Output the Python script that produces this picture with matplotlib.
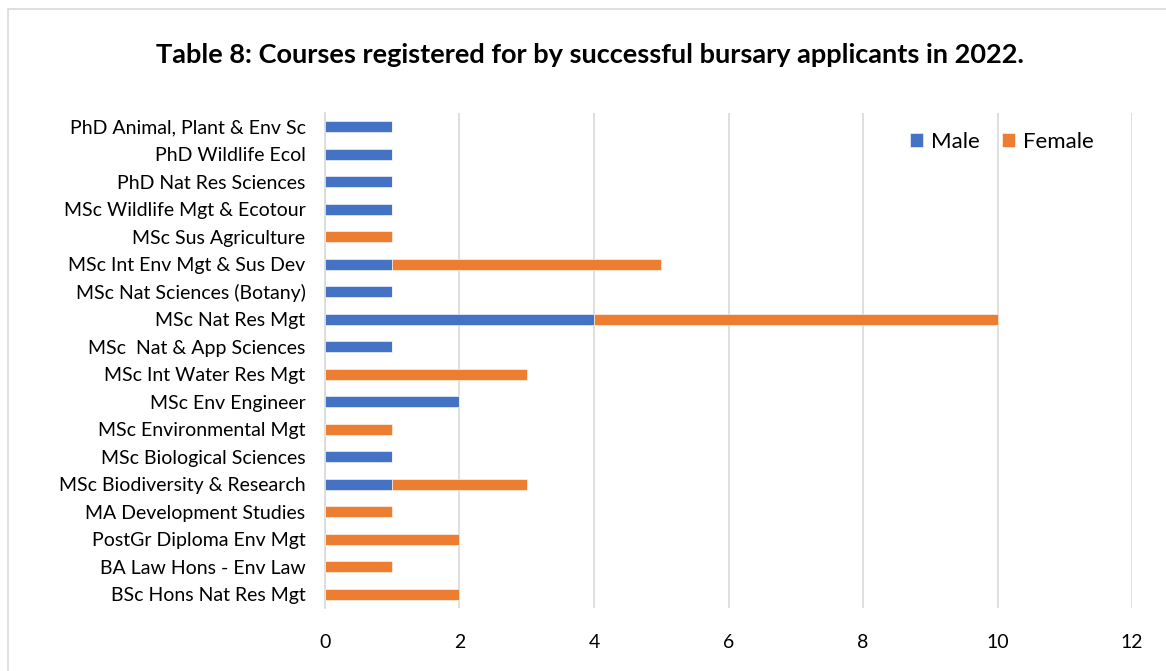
import numpy as np
import matplotlib
matplotlib.use("Agg")
import matplotlib.pyplot as plt
from matplotlib.patches import Rectangle

plt.rcParams['font.family'] = ['Lato', 'DejaVu Sans']

# course names, top to bottom as shown in the chart
courses = [
    "PhD Animal, Plant & Env Sc",
    "PhD Wildlife Ecol",
    "PhD Nat Res Sciences",
    "MSc Wildlife Mgt & Ecotour",
    "MSc Sus Agriculture",
    "MSc Int Env Mgt & Sus Dev",
    "MSc Nat Sciences (Botany)",
    "MSc Nat Res Mgt",
    "MSc  Nat & App Sciences",
    "MSc Int Water Res Mgt",
    "MSc Env Engineer",
    "MSc Environmental Mgt",
    "MSc Biological Sciences",
    "MSc Biodiversity & Research",
    "MA Development Studies",
    "PostGr Diploma Env Mgt",
    "BA Law Hons - Env Law",
    "BSc Hons Nat Res Mgt",
]
male = [1, 1, 1, 1, 0, 1, 1, 4, 1, 0, 2, 0, 1, 1, 0, 0, 0, 0]
female = [0, 0, 0, 0, 1, 4, 0, 6, 0, 3, 0, 1, 0, 2, 1, 2, 1, 2]
xticks = [0, 2, 4, 6, 8, 10, 12]
title = "Table 8: Courses registered for by successful bursary applicants in 2022."

blue = "#4472C4"
orange = "#ED7D31"

fig = plt.figure(figsize=(11.66, 6.71), dpi=100)
# outer chart border (cut off at right and bottom in the original)
fig.patches.append(Rectangle((8 / 1166, -0.05), 1.1, 1 - 9 / 671 + 0.05,
                             transform=fig.transFigure, fill=False,
                             edgecolor="#D9D9D9", linewidth=1.2))

ax = fig.add_axes([325 / 1166, 1 - 608 / 671, (1132 - 325) / 1166, (608 - 113) / 671])

y = np.arange(len(courses))
ax.barh(y, male, height=0.39, color=blue, edgecolor="white", linewidth=0.4, label="Male", zorder=3)
ax.barh(y, female, left=male, height=0.39, color=orange, edgecolor="white", linewidth=0.4,
        label="Female", zorder=3)

ax.set_ylim(len(courses) - 0.5, -0.5)
ax.set_xlim(0, 12)
ax.set_yticks(y)
ax.set_yticklabels(courses, fontsize=14)
ax.set_xticks(xticks)
ax.set_xticklabels([str(t) for t in xticks], fontsize=14)
ax.tick_params(axis="y", length=0, pad=14)
ax.tick_params(axis="x", length=0, pad=19)
ax.grid(axis="x", color="#D9D9D9", linewidth=1.2, zorder=0)
for s in ["top", "right", "bottom"]:
    ax.spines[s].set_visible(False)
ax.spines["left"].set_color("#D9D9D9")
ax.spines["left"].set_linewidth(1.2)

fig.text(590 / 1166, 1 - 55 / 671, title, ha="center", va="center", fontsize=19.5, fontweight="bold")

ax.legend(loc="center", bbox_to_anchor=(1002 / 1166, 1 - 142 / 671), bbox_transform=fig.transFigure,
          ncol=2, frameon=False, fontsize=16, handlelength=0.6, handleheight=0.6,
          handletextpad=0.35, columnspacing=1.0, borderpad=0)

fig.savefig("out.png", dpi=100, facecolor="white")
